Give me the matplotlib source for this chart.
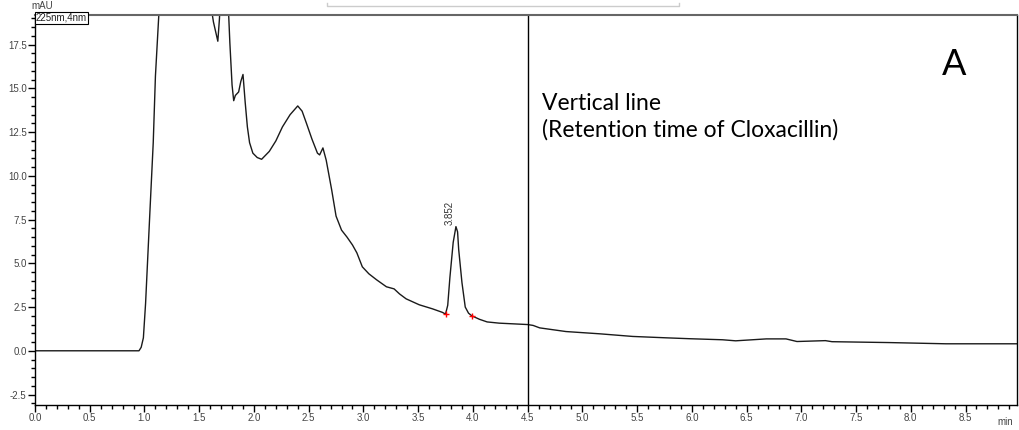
import matplotlib
matplotlib.use("Agg")
import matplotlib.pyplot as plt
from matplotlib.ticker import MultipleLocator, FormatStrFormatter
from matplotlib.lines import Line2D

# chromatogram trace (min, mAU)
time_min = [0.00, 0.50, 0.95, 0.97, 0.99, 1.01, 1.05, 1.08, 1.10, 1.13, 1.16,
            1.25, 1.40, 1.55, 1.61, 1.63, 1.67, 1.685, 1.695, 1.73, 1.765,
            1.78, 1.80, 1.815, 1.83, 1.86, 1.88, 1.90, 1.92, 1.94, 1.96,
            1.99, 2.03, 2.07, 2.14, 2.20, 2.26, 2.33, 2.40, 2.44, 2.48, 2.53,
            2.58, 2.60, 2.63, 2.66, 2.71, 2.75, 2.80, 2.85, 2.90, 2.94, 2.99,
            3.05, 3.12, 3.21, 3.28, 3.33, 3.39, 3.51, 3.63, 3.72, 3.75, 3.77,
            3.79, 3.82, 3.845, 3.86, 3.87, 3.90, 3.93, 3.96, 3.99, 4.06, 4.13,
            4.24, 4.50, 4.55, 4.61, 4.85, 5.16, 5.46, 5.77, 5.98, 6.28, 6.40,
            6.68, 6.86, 6.96, 7.22, 7.28, 7.80, 8.32, 8.97]
signal_mau = [0.00, 0.00, 0.00, 0.20, 0.74, 2.7, 8.0, 11.9, 15.7, 19.1, 21.5,
              24.0, 25.0, 23.0, 19.6, 18.8, 17.7, 19.0, 20.5, 21.5, 19.8,
              17.6, 15.2, 14.3, 14.6, 14.8, 15.4, 15.8, 14.2, 12.8, 11.9,
              11.3, 11.05, 10.95, 11.4, 12.0, 12.8, 13.5, 14.0, 13.7, 13.0, 12.1,
              11.3, 11.2, 11.6, 10.9, 9.2, 7.7, 6.9, 6.5, 6.05, 5.6, 4.8,
              4.4, 4.06, 3.66, 3.54, 3.25, 2.97, 2.63, 2.4, 2.2, 2.1, 2.6,
              4.2, 6.2, 7.1, 6.8, 5.8, 3.9, 2.5, 2.15, 2.0, 1.8, 1.65,
              1.58, 1.50, 1.45, 1.31, 1.10, 0.97, 0.82, 0.74, 0.69, 0.63, 0.57,
              0.68, 0.68, 0.53, 0.58, 0.52, 0.47, 0.40, 0.40]

peak_time = 3.852
peak_height = 7.1
peak_start = (3.75, 2.1)
peak_end = (3.99, 2.0)
cloxacillin_rt = 4.5

fig = plt.figure(figsize=(10.19, 4.30), dpi=100)
ax = fig.add_axes([35 / 1019, 25 / 430, 982 / 1019, 390 / 430])

ax.plot(time_min, signal_mau, color="#1a1a1a", lw=1.0)
ax.axvline(cloxacillin_rt, color="black", lw=1.0)
ax.plot([peak_start[0], peak_end[0]], [peak_start[1], peak_end[1]],
        ls="none", marker="+", color="red", ms=5, mew=1.0)
ax.text(peak_time - 0.06, peak_height + 0.1, f"{peak_time:.3f}", rotation=90,
        ha="center", va="bottom", fontsize=7, color="#333333",
        family="Liberation Sans")

ax.set_xlim(0, 8.97)
ax.set_ylim(-3.1, 19.2)
ax.xaxis.set_major_locator(MultipleLocator(0.5))
ax.xaxis.set_minor_locator(MultipleLocator(0.1))
ax.yaxis.set_major_locator(MultipleLocator(2.5))
ax.yaxis.set_minor_locator(MultipleLocator(0.5))
ax.xaxis.set_major_formatter(FormatStrFormatter("%.1f"))
ax.yaxis.set_major_formatter(FormatStrFormatter("%.1f"))
ax.tick_params(which="major", direction="out", length=5, width=1,
               labelsize=7, labelcolor="#444444", pad=1)
ax.tick_params(which="minor", direction="out", length=3, width=1)
for lbl in ax.get_xticklabels() + ax.get_yticklabels():
    lbl.set_family("Liberation Sans")

for side in ["left", "bottom", "right"]:
    ax.spines[side].set_color("black")
    ax.spines[side].set_linewidth(1.0)
ax.spines["top"].set_color("#666666")
ax.spines["top"].set_linewidth(1.5)

fig.text(1005 / 1019, (430 - 422) / 430, "min", fontsize=7, color="#444444",
         ha="center", va="center", family="Liberation Sans")
fig.text(31 / 1019, (430 - 6) / 430, "mAU", fontsize=7, color="#444444",
         ha="left", va="center", family="Liberation Sans")
fig.text(36 / 1019, (430 - 18) / 430, "225nm,4nm", fontsize=7, color="#222222",
         ha="left", va="center", family="Liberation Sans",
         bbox=dict(boxstyle="square,pad=0.1", fc="white", ec="black", lw=0.8))

# faint bracket at the top edge
fig.add_artist(Line2D([327 / 1019, 327 / 1019, 679 / 1019, 679 / 1019],
                      [(430 - 3) / 430, (430 - 6) / 430, (430 - 6) / 430, (430 - 3) / 430],
                      color="#cccccc", lw=1.0))

ax.text(4.635, 13.4, "Vertical line\n(Retention time of Cloxacillin)",
        fontsize=16.5, family="Lato", ha="left", va="center", linespacing=1.3)
ax.text(8.28, 16.35, "A", fontsize=26, family="Lato", ha="left", va="center")

fig.savefig("out.png", dpi=100)
